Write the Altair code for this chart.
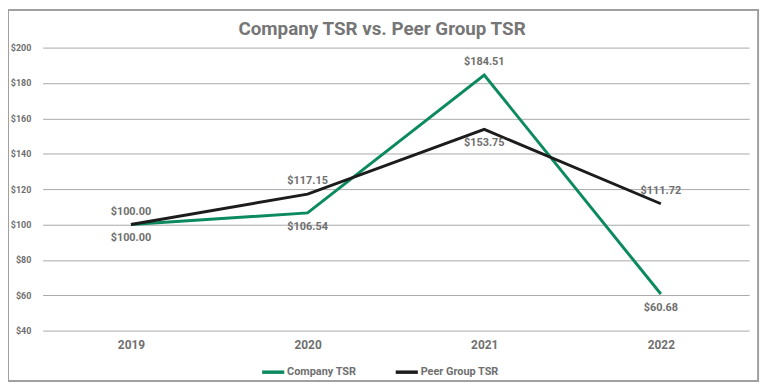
import altair as alt
import pandas as pd

years = ["2019", "2020", "2021", "2022"]
company = [100.00, 106.54, 184.51, 60.68]
peer = [100.00, 117.15, 153.75, 111.72]
series_names = ["Company TSR", "Peer Group TSR"]
colors = ["#0b8a5f", "#1c1c1c"]
title_text = "Company TSR vs. Peer Group TSR"

rows = []
for y, c, p in zip(years, company, peer):
    rows.append({"year": y, "series": series_names[0], "value": c})
    rows.append({"year": y, "series": series_names[1], "value": p})
df = pd.DataFrame(rows)

FONT = "Roboto"
GRAY = "#6f6f6f"
W, H = 714, 286

x = alt.X("year:O", sort=years, title=None,
          scale=alt.Scale(type="point", padding=0.5),
          axis=alt.Axis(labelAngle=0, ticks=False, domain=False, grid=False,
                        labelFont=FONT, labelFontSize=12, labelFontWeight="bold",
                        labelColor=GRAY, labelPadding=9))
y = alt.Y("value:Q", title=None,
          scale=alt.Scale(domain=[40, 200], nice=False, zero=False),
          axis=alt.Axis(values=[40, 60, 80, 100, 120, 140, 160, 180, 200],
                        labelExpr="'$' + datum.value", ticks=False, domain=False,
                        gridColor="#a8a8a8", gridWidth=1,
                        labelFont=FONT, labelFontSize=9, labelFontWeight="bold",
                        labelColor=GRAY, labelPadding=12))
color = alt.Color("series:N",
                  scale=alt.Scale(domain=series_names, range=colors),
                  legend=alt.Legend(title=None, orient="none", direction="horizontal",
                                    legendX=220, legendY=315,
                                    symbolType="stroke", symbolSize=500,
                                    symbolStrokeWidth=3.5, labelOffset=1,
                                    columnPadding=32,
                                    labelFont=FONT, labelFontSize=11,
                                    labelFontWeight="bold", labelColor=GRAY))

base = alt.Chart(df)
one = "datum.year == '2019' && datum.series == 'Company TSR'"

frame = base.mark_rect(fill=None, stroke="#a0a0a0", strokeWidth=2, clip=False).encode(
    x=alt.value(-35), x2=alt.value(723), y=alt.value(-38), y2=alt.value(337)
).transform_filter(one)

title = base.mark_text(font=FONT, fontSize=19, fontWeight="bold", color="#767676",
                       align="center", baseline="middle").encode(
    x=alt.value(343), y=alt.value(-19), text=alt.value(title_text)
).transform_filter(one)

lines = base.mark_line(strokeWidth=3).encode(x=x, y=y, color=color)

label_common = dict(font=FONT, fontSize=11, fontWeight="bold", color=GRAY)
above = base.mark_text(baseline="middle", dy=-13, **label_common).encode(
    x=x, y=y, text=alt.Text("value:Q", format="$.2f")
).transform_filter(
    "(datum.series == 'Company TSR' && datum.year == '2021') || "
    "(datum.series == 'Peer Group TSR' && datum.year != '2021')"
)
below = base.mark_text(baseline="middle", dy=14, **label_common).encode(
    x=x, y=y, text=alt.Text("value:Q", format="$.2f")
).transform_filter(
    "(datum.series == 'Company TSR' && datum.year != '2021') || "
    "(datum.series == 'Peer Group TSR' && datum.year == '2021')"
)

chart = alt.layer(frame, title, lines, above, below).properties(
    width=W, height=H,
    autosize=alt.AutoSizeParams(type="none"),
    padding={"left": 35, "top": 38, "right": 16, "bottom": 58},
).configure_view(stroke=None)

chart.save("out.html", embed_options={"renderer": "svg", "actions": False})
